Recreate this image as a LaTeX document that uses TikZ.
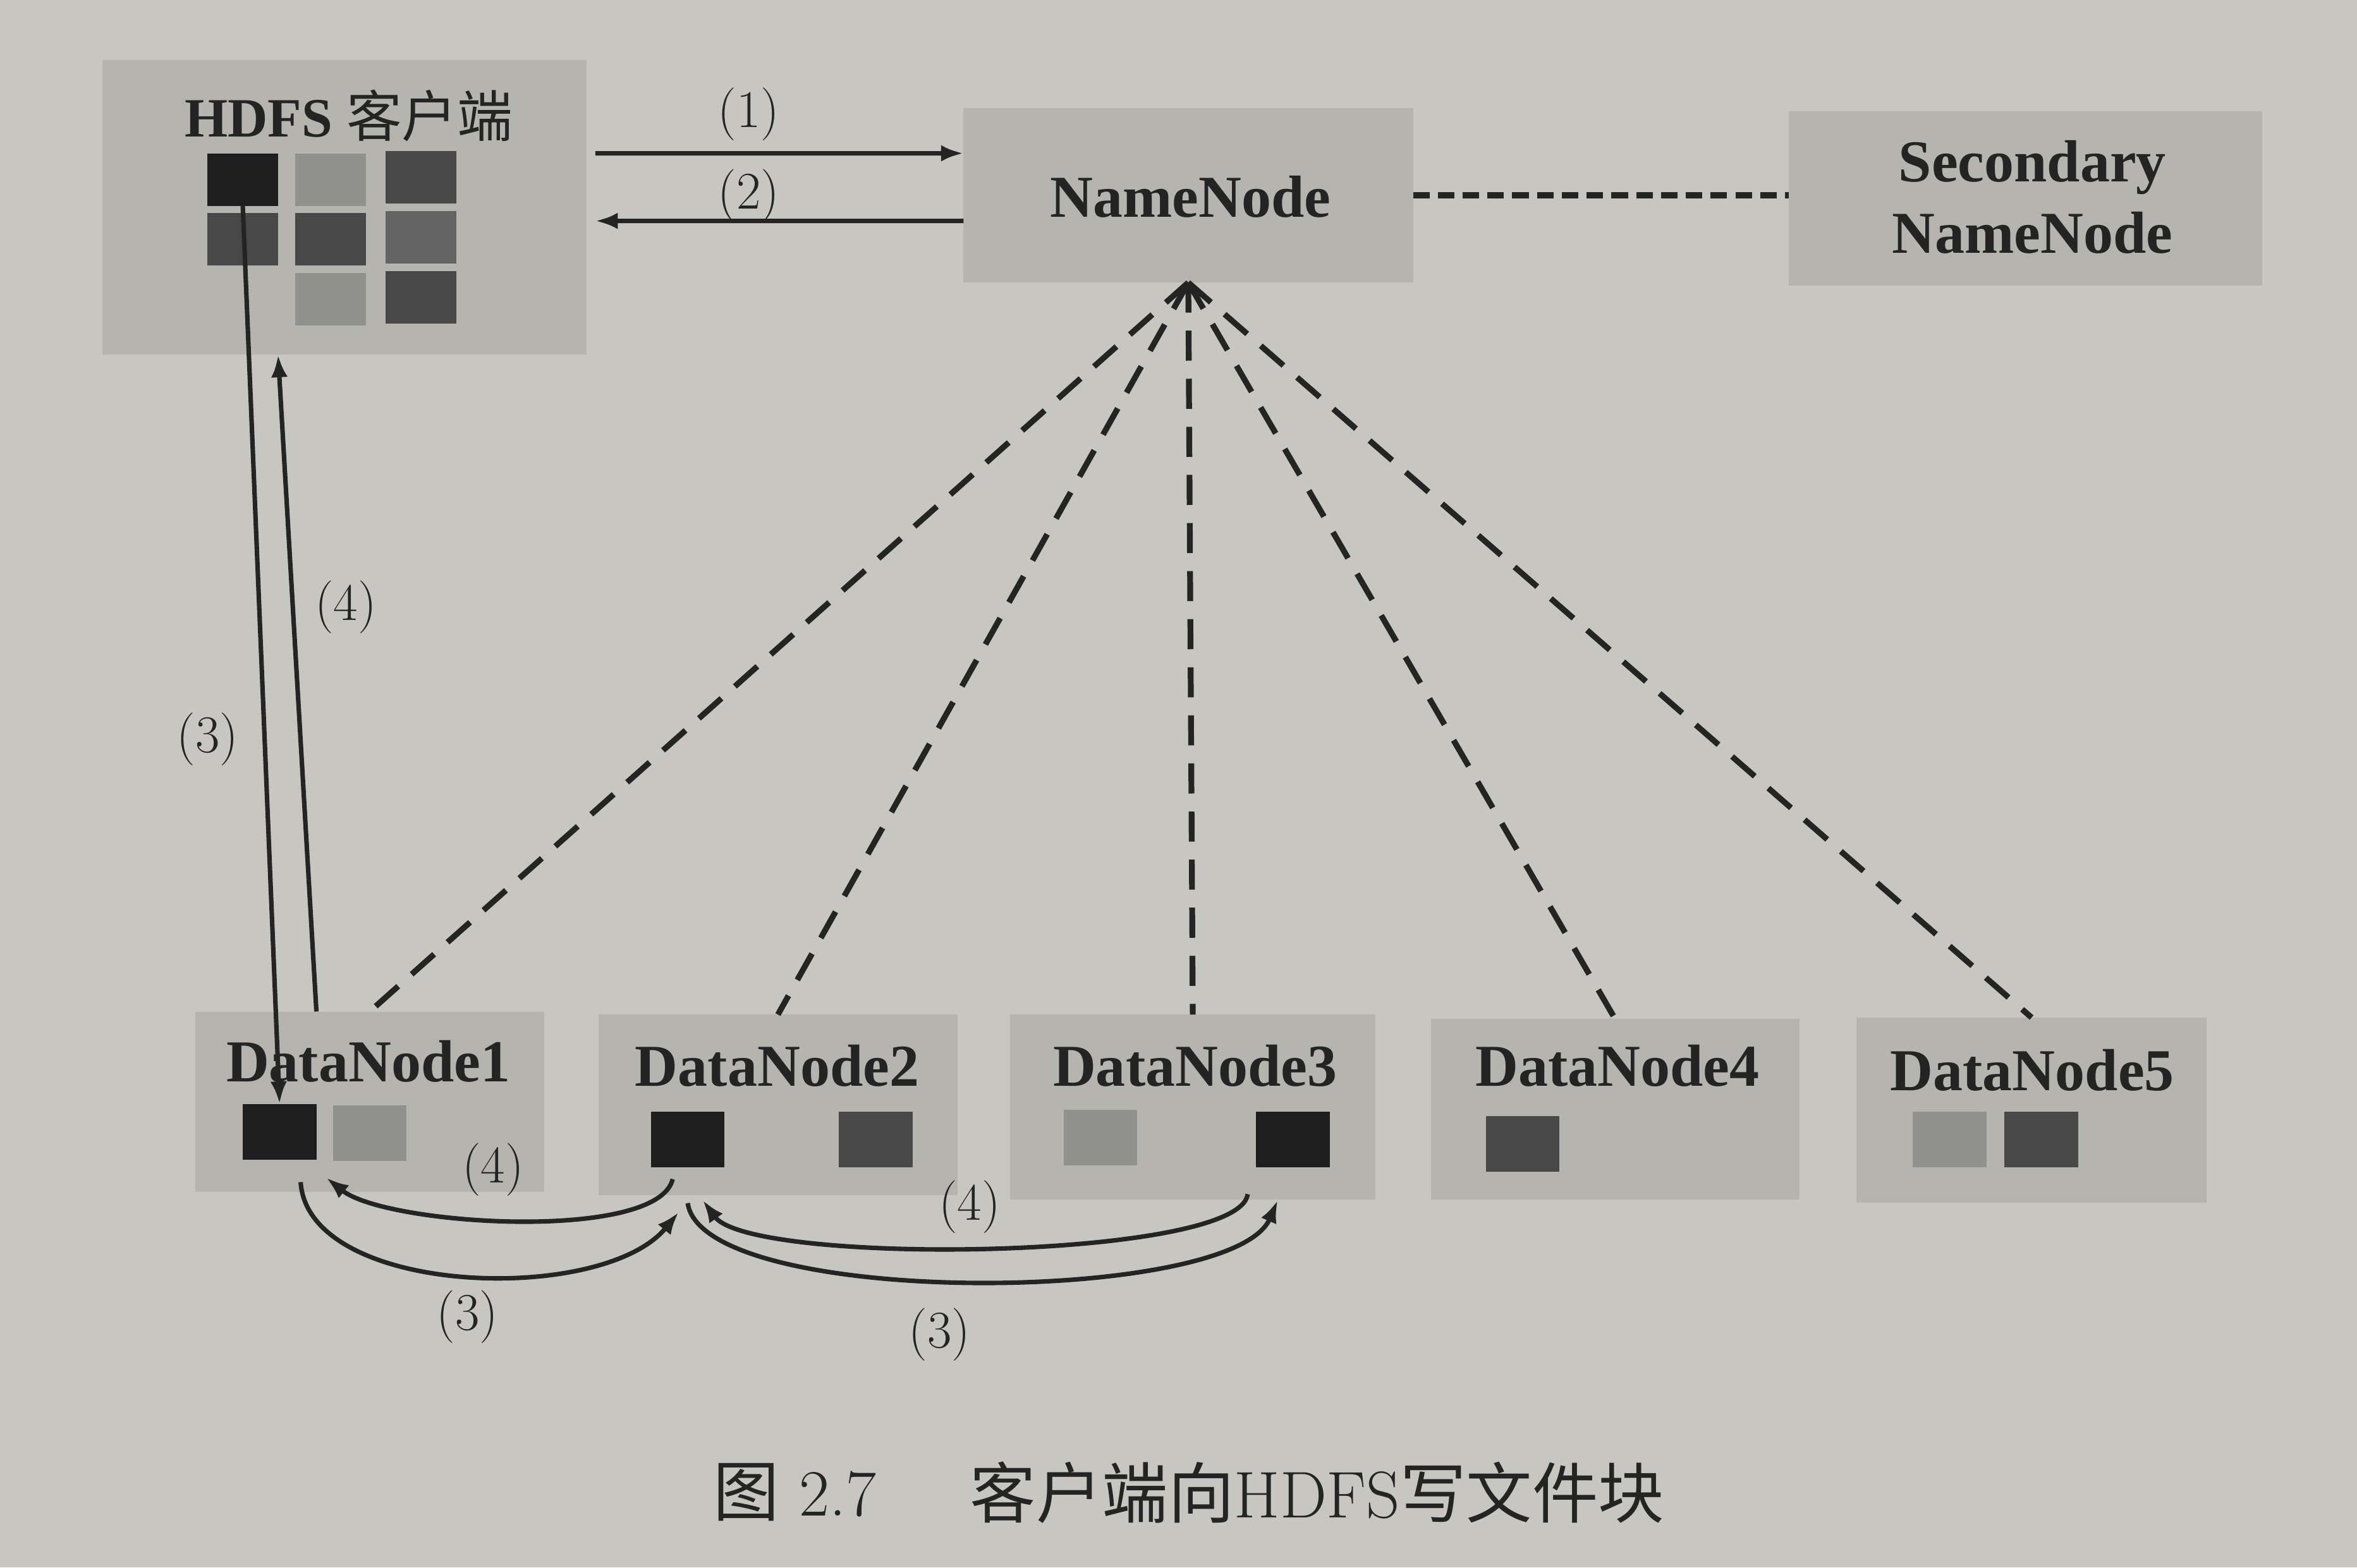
\documentclass[tikz,border=0pt]{standalone}
\usepackage{fontspec}
\newfontfamily\tnr{Liberation Serif}
\newfontfamily\cjk{Noto Sans CJK SC}
\usetikzlibrary{arrows.meta,fit,calc}
\definecolor{paper}{RGB}{200,198,192}
\definecolor{boxgray}{RGB}{182,180,175}
\definecolor{ink}{RGB}{36,36,36}
\definecolor{blk}{RGB}{30,30,30}
\definecolor{dk}{RGB}{72,72,72}
\definecolor{md}{RGB}{100,100,100}
\definecolor{lt}{RGB}{145,145,142}
\begin{document}
\begin{tikzpicture}[x=0.02cm,y=-0.02cm,
  box/.style={fill=boxgray,inner sep=0pt,outer sep=0pt},
  csq/.style={inner sep=0pt,outer sep=0pt,minimum width=0.94cm,minimum height=0.70cm},
  dsq/.style={inner sep=0pt,outer sep=0pt,minimum width=0.98cm,minimum height=0.74cm},
  blbl/.style={text=ink,inner sep=0pt,font=\tnr\bfseries\fontsize{22.5}{27}\selectfont,align=center},
  nlbl/.style={text=ink,inner sep=0pt,font=\fontsize{20}{24}\selectfont},
  arr/.style={draw=ink,line width=1.7pt,-{Latex[length=0.3cm,width=0.22cm]}},
  fan/.style={draw=ink,line width=2.2pt,dash pattern=on 0.4cm off 0.24cm},
  sdash/.style={draw=ink,line width=2.4pt,dash pattern=on 0.22cm off 0.11cm},
  captn/.style={anchor=west,text=ink,inner sep=0pt,font=\fontsize{25}{29}\selectfont}]
\fill[paper] (0,0) rectangle (1568,1043);
\useasboundingbox (0,0) rectangle (1568,1043);

% boxes
\node[box,fit={(68,40)(390,236)}] (client) {};
\node[box,fit={(641,72)(940,188)}] (nn) {};
\node[box,fit={(1190,74)(1505,190)}] (snn) {};
\node[box,fit={(130,673)(362,793)}] (dn1) {};
\node[box,fit={(398,675)(637,795)}] (dn2) {};
\node[box,fit={(672,675)(915,798)}] (dn3) {};
\node[box,fit={(952,678)(1197,798)}] (dn4) {};
\node[box,fit={(1235,677)(1468,800)}] (dn5) {};

% client block grid
\node[csq,fill=blk] (c11) at (161.5,119.5) {};
\node[csq,fill=lt]  (c12) at (220,119.5) {};
\node[csq,fill=dk]  (c13) at (280,118) {};
\node[csq,fill=dk]  (c21) at (161.5,159) {};
\node[csq,fill=dk]  (c22) at (220,159) {};
\node[csq,fill=md]  (c23) at (280,158) {};
\node[csq,fill=lt]  (c32) at (220,199) {};
\node[csq,fill=dk]  (c33) at (280,198) {};

% datanode blocks
\node[dsq,fill=blk] (d1a) at (186,753) {};
\node[dsq,fill=lt]  (d1b) at (246,754) {};
\node[dsq,fill=blk] (d2a) at (457.5,758) {};
\node[dsq,fill=dk]  (d2b) at (582.5,758) {};
\node[dsq,fill=lt]  (d3a) at (732,757) {};
\node[dsq,fill=blk] (d3b) at (860,758) {};
\node[dsq,fill=dk]  (d4a) at (1013,761) {};
\node[dsq,fill=lt]  (d5a) at (1297,758) {};
\node[dsq,fill=dk]  (d5b) at (1358,758) {};

% labels in boxes
\node[blbl,font=\tnr\bfseries\fontsize{21}{25}\selectfont] (clientlbl) at (232,77) {HDFS {\cjk\mdseries 客户端}};
\node[blbl] (nnlbl) at (792,131) {NameNode};
\node[blbl] (snnlbl) at (1352,131) {Secondary\\NameNode};
\node[blbl] (dn1lbl) at (245,706) {DataNode1};
\node[blbl] (dn2lbl) at (517,709) {DataNode2};
\node[blbl] (dn3lbl) at (795,709) {DataNode3};
\node[blbl] (dn4lbl) at (1076,709) {DataNode4};
\node[blbl] (dn5lbl) at (1352,712) {DataNode5};

% NameNode -- Secondary
\draw[sdash] (nn.east) -- (snn.west |- nn.east);

% fan of dashed lines
\foreach \d in {dn1,dn2,dn3,dn4,dn5}
  \draw[fan] (nn.south) -- (\d.north);

% (1) and (2)
\draw[arr] ([xshift=0.12cm,yshift=0.72cm]client.east) -- ([yshift=0.56cm]nn.west);
\draw[arr] ([yshift=-0.34cm]nn.west) -- ([xshift=0.12cm,yshift=-0.18cm]client.east);
\node[nlbl] (l1) at (498,76) {(1)};
\node[nlbl] (l2) at (498,130) {(2)};

% client <-> DataNode1
\draw[arr] (c11.south) -- (d1a.north);
\draw[arr] (dn1.north -| d1a.east) -- (client.south -| c11.east);
\node[nlbl] (l3a) at (138,492) {(3)};
\node[nlbl] (l4a) at (230,404) {(4)};

% pipeline curves
\draw[arr] ([shift={(-10,8)}]d2a.south) .. controls +(-10,42) and +(40,32) .. ([shift={(31,12)}]d1a.south);
\draw[arr] ([shift={(14,15)}]d1a.south) .. controls +(5,76) and +(-51,62) .. ([shift={(-6,30)}]d2a.south);
\draw[arr] ([shift={(-30,18)}]d3b.south) .. controls +(-5,44) and +(32,44) .. ([shift={(10,22)}]d2a.south);
\draw[arr] ([shift={(0,24)}]d2a.south) .. controls +(10,70) and +(-30,70) .. ([shift={(-10,22)}]d3b.south);
\node[nlbl] (l4b) at (328,778) {(4)};
\node[nlbl] (l3b) at (311,876) {(3)};
\node[nlbl] (l4c) at (645,803) {(4)};
\node[nlbl] (l3c) at (625,888) {(3)};

% caption
\node[captn] (capnum) at (474,993) {{\cjk 图} 2.7};
\node[captn] (captext) at (645,993) {{\cjk 客户端向}HDFS{\cjk 写文件块}};
\end{tikzpicture}
\end{document}
